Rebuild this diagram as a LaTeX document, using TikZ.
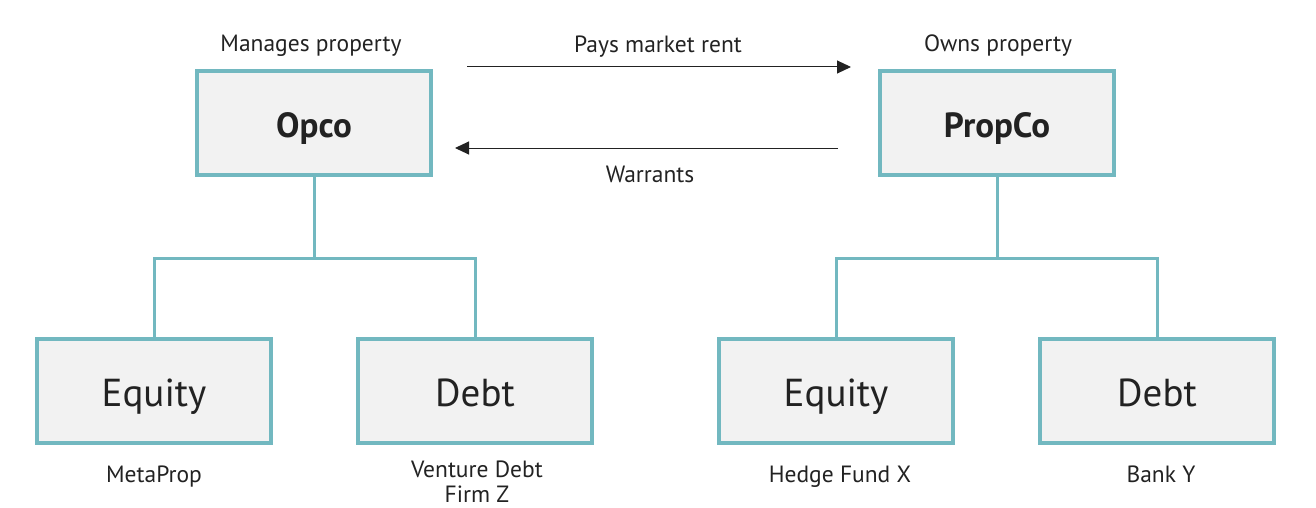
\documentclass[tikz,border=0pt]{standalone}
\usepackage{fontspec}
\setmainfont{PT Sans}
\usetikzlibrary{arrows.meta}
\definecolor{teal}{HTML}{72B8C0}
\definecolor{boxfill}{HTML}{F2F2F2}
\definecolor{ink}{HTML}{222222}
\begin{document}
\begin{tikzpicture}[x=1pt,y=-1pt,
  bx/.style={draw=teal,line width=4pt,fill=boxfill,minimum width=234pt,minimum height=104pt,inner sep=0pt,text=ink,text depth=0pt},
  topbx/.style={bx,font=\fontsize{35}{40}\selectfont\bfseries,text height=28.5pt},
  botbx/.style={bx,font=\fontsize{39}{44}\selectfont,text height=31pt},
  lbl/.style={text=ink,font=\fontsize{23.5}{25}\selectfont,inner sep=0pt,align=center,anchor=base},
  conn/.style={draw=teal,line width=3pt},
  arr/.style={draw=ink,line width=1pt,-{Triangle[length=14pt,width=13pt]}}]
\useasboundingbox (0,0) rectangle (1316,508);
\node[topbx] (opco) at (314,123) {Opco};
\node[topbx] (propco) at (997,123) {PropCo};
\node[botbx] (eq1) at (154,391) {Equity};
\node[botbx] (db1) at (475,391) {Debt};
\node[botbx] (eq2) at (836,391) {Equity};
\node[botbx] (db2) at (1157,391) {Debt};
\node[lbl] (lmanage) at (311,52) {Manages property};
\node[lbl] (lowns) at (998,52) {Owns property};
\node[lbl] (lpays) at (658,53) {Pays market rent};
\node[lbl] (lwarr) at (650,182) {Warrants};
\node[lbl] (lmeta) at (154,482) {MetaProp};
\node[lbl,anchor=center] (lvent) at (477,482) {Venture Debt\\Firm Z};
\node[lbl] (lhedge) at (840,482) {Hedge Fund X};
\node[lbl] (lbank) at (1161,482) {Bank Y};
\coordinate (a1) at (467,67);
\coordinate (a2) at (851,67);
\coordinate (b1) at (838,148);
\coordinate (b2) at (455,148);
\draw[arr] (a1) -- (a2);
\draw[arr] (b1) -- (b2);
\draw[conn] (opco.south) -- ++(0,81) -| (eq1.north);
\draw[conn] (opco.south) ++(0,81) -| (db1.north);
\draw[conn] (propco.south) -- ++(0,81) -| (eq2.north);
\draw[conn] (propco.south) ++(0,81) -| (db2.north);
\end{tikzpicture}
\end{document}
